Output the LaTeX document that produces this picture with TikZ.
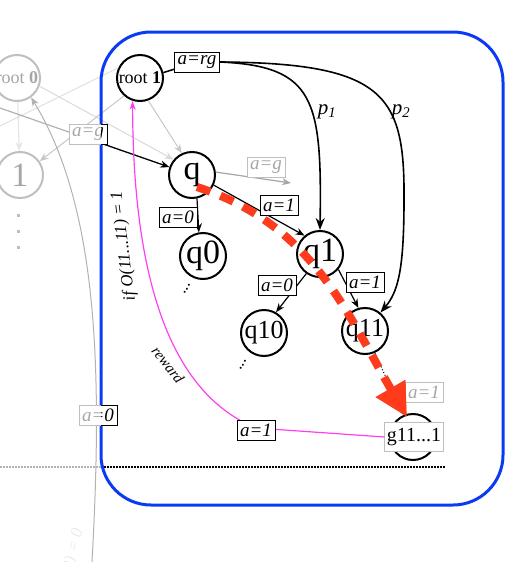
\documentclass[tikz,border=0pt]{standalone}
\usepackage{fontspec}
\setmainfont{Liberation Serif}
\usetikzlibrary{positioning, arrows.meta, shadows}
\definecolor{rim}{HTML}{0B3AF4}
\definecolor{hot}{HTML}{FF3B1C}
\definecolor{pink}{HTML}{FF3EF0}
\newcommand{\fsz}[1]{\fontsize{#1}{#1}\selectfont}

\begin{document}
\begin{tikzpicture}[x=1pt, y=-1pt,
  st/.style={circle, draw, line width=2pt, minimum size=46pt, inner sep=0pt, fill=white, font=\fsz{34}},
  lab/.style={draw, line width=.8pt, fill=white, inner xsep=3pt, inner ysep=1pt, minimum height=20pt,
    font=\fsz{19}\itshape, drop shadow={shadow xshift=1.2pt, shadow yshift=-1.2pt, opacity=.3}},
  arr/.style={-{Stealth[length=9pt, width=7pt]}, line width=1.2pt},
  big/.style={-{Stealth[length=12pt, width=9pt]}, line width=1.6pt},
  faint/.style={draw=black!25, text=black!35},
  dots/.style={line width=1.5pt, dash pattern=on 1.5pt off 1.5pt},
  redpath/.style={line width=8pt, dash pattern=on 14pt off 11pt, -{Triangle[length=33pt, width=32pt]}}
]
  \useasboundingbox (0,0) rectangle (512,562);
  \clip (0,0) rectangle (512,562);

  \node[st, faint, font=\fsz{18}] (root0) at (17,78) {root \textbf{0}};
  \node[st, faint] (one) at (20,175) {1};
  \foreach \y in {215,231,247}
    \fill[black!25] (16.5,\y-1.5) rectangle (19.5,\y+1.5);

  \node[st, font=\fsz{18}] (root1) at (140,78) {root \textbf{1}};
  \node[st] (q) at (192,175) {q};
  \node[st] (q0) at (203,256) {q0};
  \node[st] (q1) at (320,254) {q1};
  \node[st, font=\fsz{26}] (q10) at (264,333) {q10};
  \node[st, font=\fsz{26}] (q11) at (365,331) {q11};
  \node[st] (g) at (413,437) {};
  \node[draw=black!25, fill=white, line width=.8pt, inner xsep=2pt, minimum height=29pt,
    font=\fsz{20}] (gbox) at (414,437) {g11...1};

  \coordinate (inG) at (0,108);
  \coordinate (inR) at (0,126);
  \coordinate (low) at (92,562);
  \coordinate (qg) at (291,183);
  \coordinate (mk) at (256,428);

  \draw[arr, black!10] (root0) -- (one);
  \draw[arr, black!15, line width=1pt] (root0.-20) -- (q.140);
  \draw[black!12, line width=1pt] (inR) -- (root1.155);
  \draw[arr, black!22, line width=1pt] (root1.228) -- (one.35);
  \draw[arr, black!22, line width=1pt] (root1.-70) -- (q.115);
  \draw[arr, black!30, line width=1pt] (low) .. controls (102,380) and (100,210) .. (root0.-54);
  \draw[arr, black!30] (inG) -- (q);
  \begin{scope}
    \clip (101,0) rectangle (512,562);
    \draw[arr] (inG) -- (q);
  \end{scope}
  \draw[black!30, dots] (0,467) -- (101,467);
  \draw[dots] (101,467) -- (445,467);
  \draw[rim, line width=3pt, rounded corners=50pt] (101,32) rectangle (503,505);

  \node[lab] (rg) at (197,62) {a=rg};
  \draw[line width=1.5pt] (root1.13) -- (rg);
  \draw[big] (rg.east) .. controls (315,66) and (322,100) .. (q1.north);
  \draw[big] (rg.east) .. controls (385,63) and (405,95) .. (404,200)
    .. controls (404,270) and (398,292) .. (q11.50);
  \node[font=\fsz{21}\itshape] (p1) at (327,112) {p\textsubscript{1}};
  \node[font=\fsz{21}\itshape] (p2) at (401,112) {p\textsubscript{2}};

  \draw[arr] (q.-78) -- (q0.100);
  \draw[arr] (q.-25) -- (q1.130);
  \draw[arr, black!35] (q.7) -- (qg);
  \draw[arr] (q1.235) -- (q10.60);
  \draw[arr] (q1.-40) -- (q11.106);
  \draw[dotted, line width=1pt] (q11) -- (g);
  \draw[pink, line width=1.2pt, -{Stealth[length=9pt, width=6pt]}] (gbox.west) -- (mk)
    .. controls (175,395) and (133,290) .. (root1.-108);

  \node[lab, faint] (ag0) at (88,134) {a=g};
  \node[lab, faint] (al0) at (98,415) {a=0};
  \begin{scope}
    \clip (101,0) rectangle (512,562);
    \node[lab] (ag0b) at (ag0) {a=g};
    \node[lab] (al0b) at (al0) {a=0};
  \end{scope}
  \node[lab, faint] (ag1) at (266,167) {a=g};
  \node[lab] (a0q) at (178,217) {a=0};
  \node[lab] (a1q) at (279,205) {a=1};
  \node[lab] (a0p) at (277,285) {a=0};
  \node[lab] (a1p) at (365,282) {a=1};
  \node[lab, faint] (a1g) at (424,392) {a=1};
  \node[lab] (a1r) at (256,430) {a=1};

  \node[font=\fsz{17}, rotate=60] (d0) at (187,289) {...};
  \node[font=\fsz{17}, rotate=60] (d10) at (243,365) {...};
  \node[font=\fsz{17}\itshape, rotate=97] (ifl) at (124,246) {if O(11...11) = 1};
  \node[font=\fsz{15}\itshape, rotate=-52] (rwd) at (168,365) {reward};
  \node[font=\fsz{17}\itshape, text=black!8, rotate=75, anchor=base east] (ifl0) at (84,527) {if O(00...00) = 0};

  \coordinate (qs) at (197,187);
  \coordinate (gt) at (407,417);
  \draw[redpath, black, opacity=.25, shift={(2,2)}] (qs) .. controls (312,224) and (346,312) .. (gt);
  \draw[redpath, hot] (qs) .. controls (312,224) and (346,312) .. (gt);
\end{tikzpicture}
\end{document}
